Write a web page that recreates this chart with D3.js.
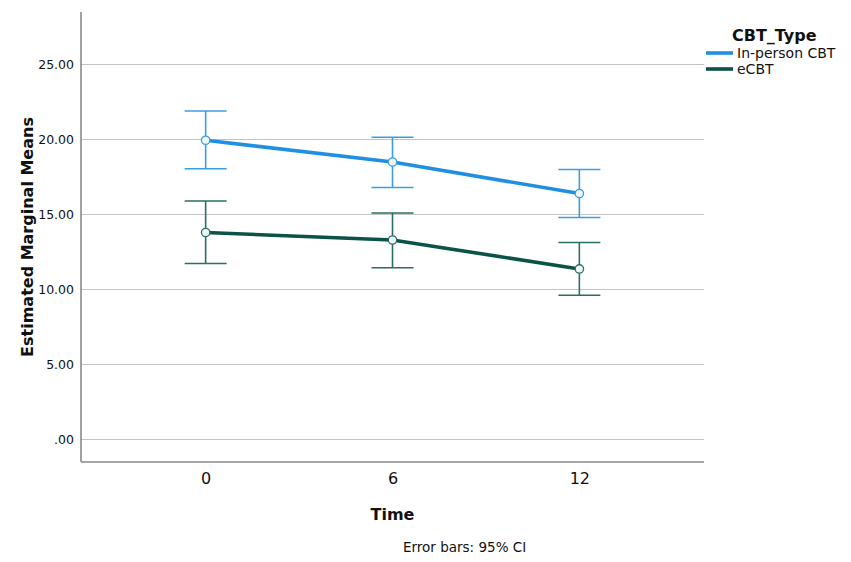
<!DOCTYPE html>
<html>
<head>
<meta charset="utf-8">
<script src="https://cdn.jsdelivr.net/npm/d3@7"></script>
<style>
  body { margin: 0; background: #fff; }
  text { font-family: "DejaVu Sans", sans-serif; fill: #111; }
</style>
</head>
<body>
<div id="chart"></div>
<script>
// values
var times = ["0", "6", "12"];
var seriesNames = ["In-person CBT", "eCBT"];
var inPersonMean = [19.95, 18.5, 16.4];
var inPersonLow = [18.05, 16.8, 14.8];
var inPersonHigh = [21.9, 20.15, 18.0];
var ecbtMean = [13.8, 13.3, 11.37];
var ecbtLow = [11.73, 11.45, 9.62];
var ecbtHigh = [15.9, 15.1, 13.13];
var yTicks = [0, 5, 10, 15, 20, 25];

var svgWidth = 851;
var svgHeight = 562;
var margin = {top: 12, right: 147, bottom: 100, left: 81};
var width = svgWidth - margin.left - margin.right;
var height = svgHeight - margin.top - margin.bottom;

var svg = d3.select("#chart")
    .append("svg")
    .attr("width", svgWidth)
    .attr("height", svgHeight);

var chart = svg.append("g")
    .attr("transform", "translate(" + margin.left + "," + margin.top + ")");

var x = d3.scalePoint()
    .domain(times)
    .range([0, width])
    .padding(0.667);

var y = d3.scaleLinear()
    .domain([-1.5, 28.5])
    .range([height, 0]);

// gridlines
chart.append("g")
    .selectAll("line")
    .data(yTicks)
    .enter()
    .append("line")
    .attr("x1", 0)
    .attr("x2", width)
    .attr("y1", d => y(d))
    .attr("y2", d => y(d))
    .attr("stroke", "#c4c4c4")
    .attr("stroke-width", 1.2);

// axes
var leftAxis = d3.axisLeft(y)
    .tickValues(yTicks)
    .tickSize(0)
    .tickPadding(7)
    .tickFormat(d => d === 0 ? ".00" : d3.format(".2f")(d));

var yAxisG = chart.append("g").call(leftAxis);
yAxisG.select(".domain").remove();
yAxisG.selectAll("text")
    .style("font-size", "12.5px")
    .style("font-family", "DejaVu Sans, sans-serif")
    .attr("fill", "#222");

var bottomAxis = d3.axisBottom(x).tickSize(0).tickPadding(11);
var xAxisG = chart.append("g")
    .attr("transform", "translate(0," + height + ")")
    .call(bottomAxis);
xAxisG.select(".domain").remove();
xAxisG.selectAll("text")
    .style("font-size", "16px")
    .style("font-family", "DejaVu Sans, sans-serif")
    .attr("fill", "#111");

// axis frame lines
chart.append("line")
    .attr("x1", 0).attr("x2", 0)
    .attr("y1", 0).attr("y2", height)
    .attr("stroke", "#8a8a8a").attr("stroke-width", 1.6);
chart.append("line")
    .attr("x1", 0).attr("x2", width)
    .attr("y1", height).attr("y2", height)
    .attr("stroke", "#8a8a8a").attr("stroke-width", 1.6);

var series = [
    {name: seriesNames[0], mean: inPersonMean, low: inPersonLow, high: inPersonHigh,
     line: "#1f8fe2", bar: "#3a9de2"},
    {name: seriesNames[1], mean: ecbtMean, low: ecbtLow, high: ecbtHigh,
     line: "#0b5247", bar: "#2a6f63"}
];

var capHalf = 21;
var lineGen = d3.line()
    .x((d, i) => x(times[i]))
    .y(d => y(d));

series.forEach(function(s) {
    var g = chart.append("g");
    // error bars
    times.forEach(function(t, i) {
        var cx = x(t);
        g.append("line")
            .attr("x1", cx).attr("x2", cx)
            .attr("y1", y(s.low[i])).attr("y2", y(s.high[i]))
            .attr("stroke", s.bar).attr("stroke-width", 1.6);
        [s.low[i], s.high[i]].forEach(function(v) {
            g.append("line")
                .attr("x1", cx - capHalf).attr("x2", cx + capHalf)
                .attr("y1", y(v)).attr("y2", y(v))
                .attr("stroke", s.bar).attr("stroke-width", 1.6);
        });
    });
    g.append("path")
        .datum(s.mean)
        .attr("d", lineGen)
        .attr("fill", "none")
        .attr("stroke", s.line)
        .attr("stroke-width", 3.6);
    g.selectAll("circle")
        .data(s.mean)
        .enter()
        .append("circle")
        .attr("cx", (d, i) => x(times[i]))
        .attr("cy", d => y(d))
        .attr("r", 4.2)
        .attr("fill", "#eef6f8")
        .attr("stroke", s.bar)
        .attr("stroke-width", 1.3);
});

// axis titles
svg.append("text")
    .attr("transform", "translate(33," + (margin.top + 225) + ") rotate(-90)")
    .attr("text-anchor", "middle")
    .style("font-size", "16px")
    .style("font-weight", "bold")
    .text("Estimated Marginal Means");

svg.append("text")
    .attr("x", margin.left + x("6"))
    .attr("y", 520)
    .attr("text-anchor", "middle")
    .style("font-size", "16px")
    .style("font-weight", "bold")
    .text("Time");

svg.append("text")
    .attr("x", 403)
    .attr("y", 552)
    .style("font-size", "13.5px")
    .text("Error bars: 95% CI");

// legend
var legend = svg.append("g").attr("transform", "translate(705,0)");
legend.append("text")
    .attr("x", 27)
    .attr("y", 41)
    .style("font-size", "16px")
    .style("font-weight", "bold")
    .text("CBT_Type");
var legendItems = legend.selectAll("g.item")
    .data(series)
    .enter()
    .append("g")
    .attr("class", "item")
    .attr("transform", (d, i) => "translate(0," + (53 + i * 16) + ")");
legendItems.append("line")
    .attr("x1", 1).attr("x2", 28)
    .attr("y1", 0).attr("y2", 0)
    .attr("stroke", d => d.line)
    .attr("stroke-width", 3.6);
legendItems.append("text")
    .attr("x", 32)
    .attr("y", 5)
    .style("font-size", "14px")
    .text(d => d.name);
</script>
</body>
</html>
